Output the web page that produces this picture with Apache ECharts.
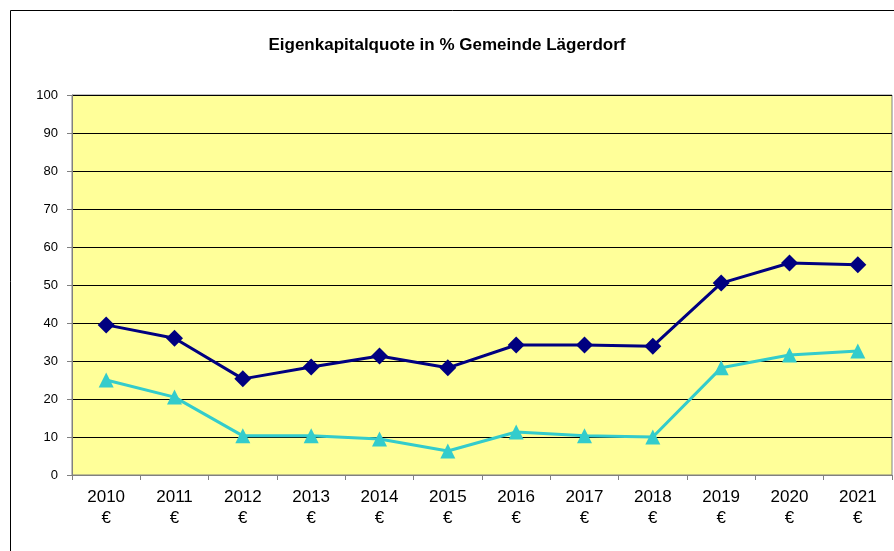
<!DOCTYPE html>
<html>
<head>
<meta charset="utf-8">
<script src="https://cdn.jsdelivr.net/npm/echarts@6/dist/echarts.min.js"></script>
<style>
    html, body { margin: 0; padding: 0; background: #fff; }
    #main { width: 894px; height: 551px; }
</style>
</head>
<body>
<div id="main"></div>
<script>
// data
var years = ['2010', '2011', '2012', '2013', '2014', '2015', '2016', '2017', '2018', '2019', '2020', '2021'];
var quoteA = [39.5, 36.0, 25.3, 28.4, 31.3, 28.2, 34.2, 34.2, 33.9, 50.5, 55.8, 55.3];
var quoteB = [25.0, 20.5, 10.3, 10.3, 9.5, 6.3, 11.3, 10.3, 10.0, 28.2, 31.6, 32.6];
var yTicks = [0, 10, 20, 30, 40, 50, 60, 70, 80, 90, 100];

function chart() {
    var myChart = echarts.init(document.getElementById('main'));
    var option = {
        backgroundColor: '#ffffff',
        animation: false,
        textStyle: { fontFamily: 'Liberation Sans' },
        graphic: [{
            type: 'rect',
            shape: { x: 10.5, y: 10.5, width: 900, height: 600 },
            style: { fill: 'none', stroke: '#000', lineWidth: 1 },
            z: -10
        }],
        title: {
            text: 'Eigenkapitalquote in % Gemeinde Lägerdorf',
            left: 'center',
            top: 32,
            textStyle: { fontSize: 17, fontWeight: 'bold', color: '#000', fontFamily: 'Liberation Sans' }
        },
        grid: {
            left: 72, right: 2, top: 95, bottom: 76,
            show: true,
            backgroundColor: '#ffff99',
            borderColor: '#808080',
            borderWidth: 1
        },
        xAxis: {
            type: 'category',
            data: years,
            boundaryGap: true,
            axisLine: { lineStyle: { color: '#808080', width: 1 } },
            axisTick: { show: true, length: 5, lineStyle: { color: '#808080' } },
            axisLabel: {
                color: '#000',
                fontSize: 17,
                lineHeight: 21,
                margin: 12,
                formatter: function (v) { return v + '\n€'; }
            },
            splitLine: { show: false }
        },
        yAxis: {
            type: 'value',
            min: yTicks[0],
            max: yTicks[yTicks.length - 1],
            interval: 10,
            axisLine: { show: true, lineStyle: { color: '#808080' } },
            axisTick: { show: true, length: 5, lineStyle: { color: '#808080' } },
            axisLabel: { color: '#000', fontSize: 13, margin: 14 },
            splitLine: { show: true, lineStyle: { color: '#000', width: 1 } }
        },
        series: [{
            name: 'A',
            type: 'line',
            data: quoteA,
            symbol: 'diamond',
            symbolSize: 17,
            lineStyle: { color: '#000080', width: 3 },
            itemStyle: { color: '#000080' }
        }, {
            name: 'B',
            type: 'line',
            data: quoteB,
            symbol: 'triangle',
            symbolSize: 15,
            lineStyle: { color: '#33cccc', width: 3 },
            itemStyle: { color: '#33cccc' }
        }]
    };
    myChart.setOption(option);
}
chart();
</script>
</body>
</html>
